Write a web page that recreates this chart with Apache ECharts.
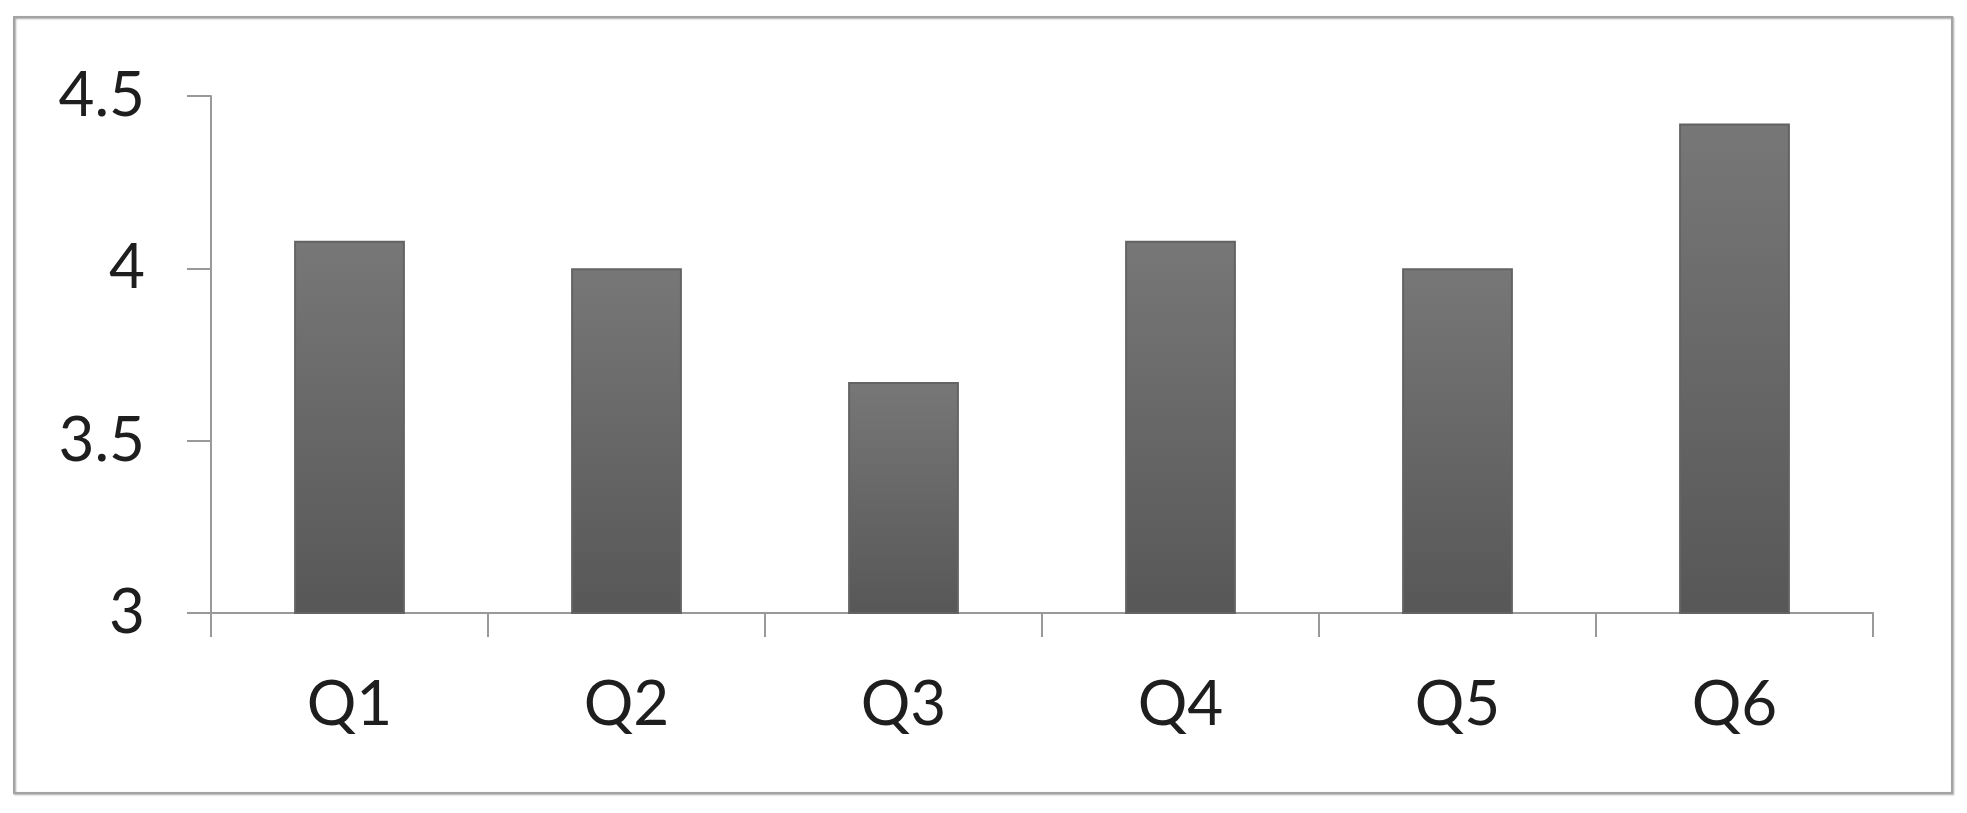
<!DOCTYPE html>
<html>
<head>
<meta charset="utf-8">
<title>Q chart</title>
<script src="https://cdn.jsdelivr.net/npm/echarts@6/dist/echarts.min.js"></script>
<style>
html, body {
  margin: 0;
  padding: 0;
  background: #fff;
}
#chart {
  width: 1967px;
  height: 813px;
}
</style>
</head>
<body>
<div id="chart"></div>
<script>
// data
var categories = ["Q1", "Q2", "Q3", "Q4", "Q5", "Q6"];
var scores = [4.08, 4.0, 3.67, 4.08, 4.0, 4.42];
var yTicks = [3, 3.5, 4, 4.5];

var mychart = echarts.init(document.getElementById("chart"));

var option = {
  backgroundColor: "#fff",
  animation: false,
  textStyle: {
    fontFamily: "Lato"
  },
  grid: {
    left: 211,
    right: 94,
    top: 96,
    bottom: 200
  },
  graphic: [
    {
      // outer frame, slight shadow on right/bottom
      type: "rect",
      shape: { x: 14, y: 17, width: 1938, height: 776 },
      style: {
        fill: "none",
        stroke: "#a3a3a3",
        lineWidth: 2,
        shadowBlur: 2,
        shadowOffsetX: 1,
        shadowOffsetY: 1,
        shadowColor: "rgba(0,0,0,0.35)"
      }
    }
  ],
  xAxis: {
    type: "category",
    data: categories,
    boundaryGap: true,
    axisLine: {
      lineStyle: { color: "#999999", width: 2 }
    },
    axisTick: {
      show: true,
      inside: false,
      length: 24,
      lineStyle: { color: "#999999", width: 2 }
    },
    axisLabel: {
      color: "#1e1e1e",
      fontSize: 62,
      margin: 61
    }
  },
  yAxis: {
    type: "value",
    min: yTicks[0],
    max: yTicks[yTicks.length - 1],
    interval: 0.5,
    axisLine: {
      show: true,
      lineStyle: { color: "#999999", width: 2 }
    },
    axisTick: {
      show: true,
      length: 24,
      lineStyle: { color: "#999999", width: 2 }
    },
    splitLine: { show: false },
    axisLabel: {
      color: "#1e1e1e",
      fontSize: 62,
      margin: 66
    }
  },
  series: [
    {
      type: "bar",
      data: scores,
      barWidth: "40%",
      itemStyle: {
        borderColor: "#636363",
        borderWidth: 2,
        color: new echarts.graphic.LinearGradient(0, 0, 0, 1, [
          { offset: 0, color: "#777777" },
          { offset: 1, color: "#575757" }
        ])
      }
    }
  ]
};

mychart.setOption(option, true);
window.addEventListener("resize", function() {
  mychart.resize();
});
</script>
</body>
</html>
